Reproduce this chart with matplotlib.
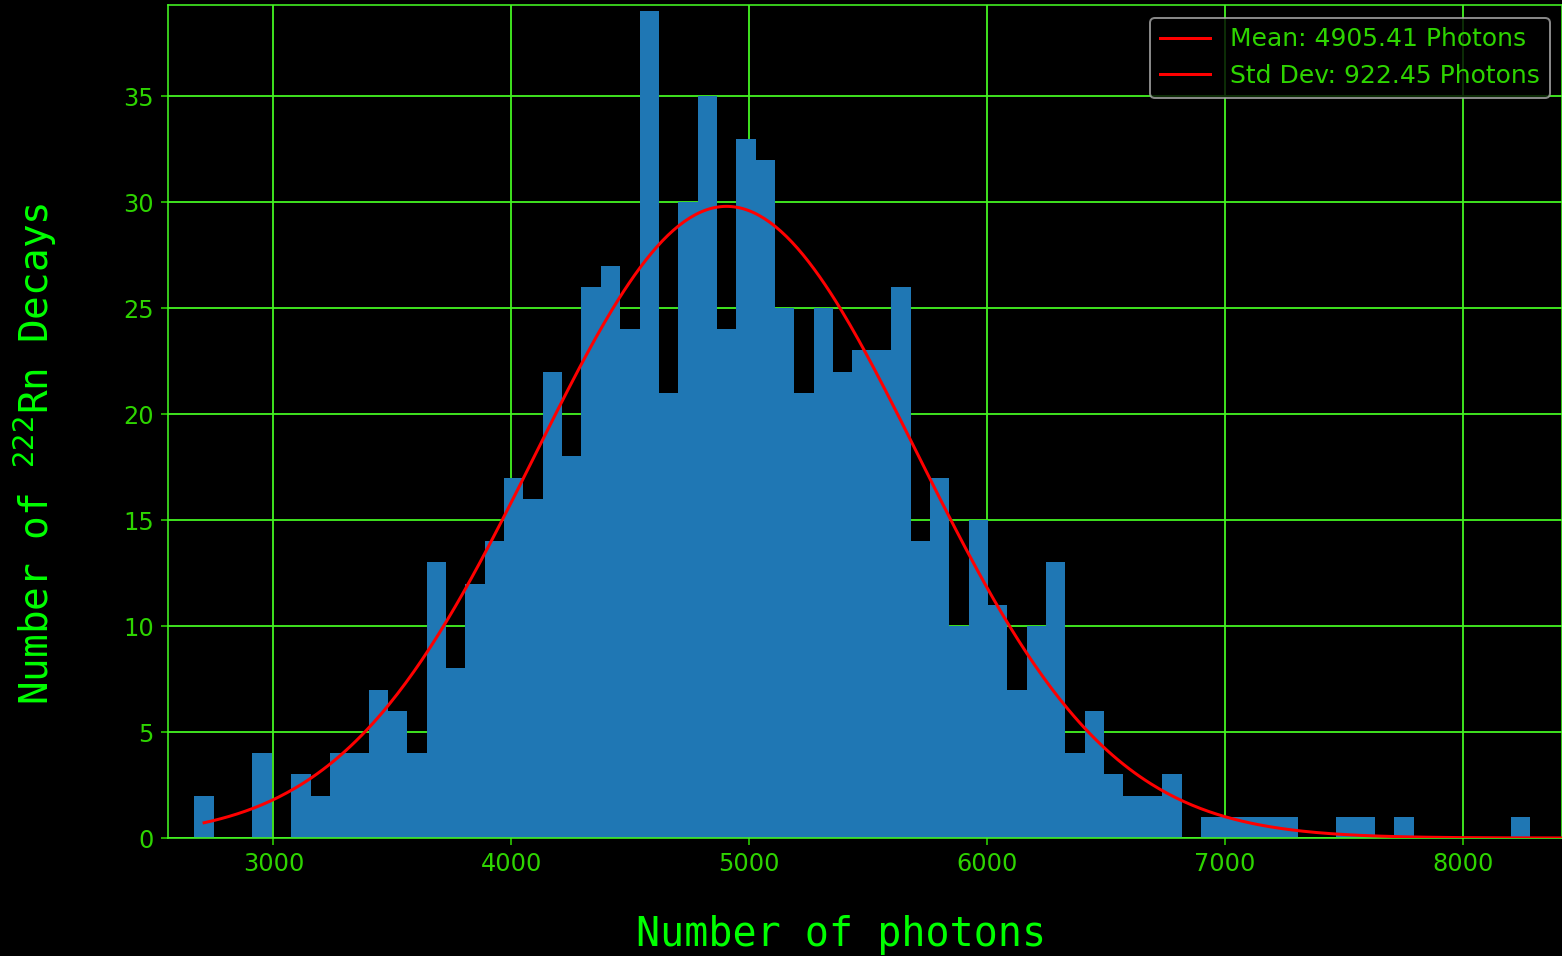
import numpy as np
import matplotlib
matplotlib.use("Agg")
import matplotlib.pyplot as plt

# ---- data ----
bin_min = 2668.0
bin_max = 8283.0
counts = [2, 0, 0, 4, 0, 3, 2, 4, 4, 7, 6, 4,
          13, 8, 12, 14, 17, 16, 22, 18,
          26, 27, 24, 39, 21, 30, 35, 24, 33, 32,
          25, 21, 25, 22, 23, 23, 26, 14, 17, 10,
          15, 11, 7, 10, 13, 4, 6, 3, 2, 2,
          3, 0, 1, 1, 1, 1, 1, 0, 0, 1,
          1, 0, 1, 0, 0, 0, 0, 0, 1]
mean_val = 4905.41
std_val = 922.45
curve_sigma = 805.0
curve_peak = 29.8
curve_end = 8500.0
xticks = [3000, 4000, 5000, 6000, 7000, 8000]
yticks = [0, 5, 10, 15, 20, 25, 30, 35]

GREEN = "#00ff00"
TICKGREEN = "#2ed400"
GRIDGREEN = "#44f522"

plt.rcParams["font.size"] = 12
fig = plt.figure(figsize=(1562 / 144, 956 / 144), dpi=144, facecolor="black")
ax = fig.add_axes([168 / 1562, (956 - 838) / 956, (1562 - 168) / 1562, (838 - 5) / 956])
ax.set_facecolor("black")

edges = np.linspace(bin_min, bin_max, len(counts) + 1)
centers = 0.5 * (edges[:-1] + edges[1:])
ax.hist(centers, bins=edges, weights=counts, color="#1f77b4", zorder=2)

xc = np.linspace(centers[0], curve_end, 500)
yc = curve_peak * np.exp(-0.5 * ((xc - mean_val) / curve_sigma) ** 2)
ax.plot(xc, yc, color="red", lw=1.5, zorder=3, label=f"Mean: {mean_val:.2f} Photons")
ax.plot([], [], color="red", lw=1.5, label=f"Std Dev: {std_val:.2f} Photons")

ax.set_xlim(2557, 8418)
ax.set_ylim(0, 39.3)
ax.set_xticks(xticks)
ax.set_yticks(yticks)
ax.grid(True, color=GRIDGREEN, lw=0.9, zorder=1)
ax.set_axisbelow(True)
ax.tick_params(colors=TICKGREEN, labelsize=12)
for s in ax.spines.values():
    s.set_color(GRIDGREEN)

ax.set_xlabel("Number of photons", color=GREEN, fontsize=20, family="DejaVu Sans Mono")
ax.set_ylabel("Number of $^{222}$Rn Decays", color=GREEN, fontsize=19.7, family="DejaVu Sans Mono")
ax.xaxis.set_label_coords((841.5 - 168) / 1394, (838 - 915) / 833)
ax.yaxis.set_label_coords((59 - 168) / 1394, (838 - 454) / 833)

leg = ax.legend(loc="upper right", facecolor="black", edgecolor="#aaaaaa", fontsize=12.5)
for t in leg.get_texts():
    t.set_color(TICKGREEN)

fig.savefig("out.png", dpi=144, facecolor="black")
